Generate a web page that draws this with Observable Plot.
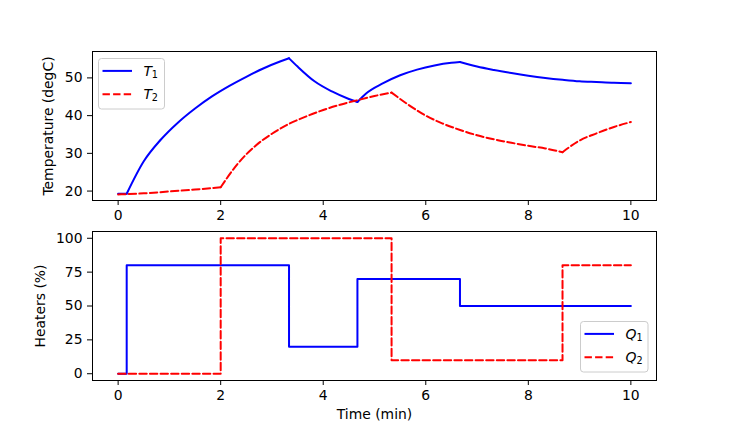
<!DOCTYPE html>
<html><head><meta charset="utf-8">
<script src="https://cdn.jsdelivr.net/npm/d3@7"></script>
<script src="https://cdn.jsdelivr.net/npm/@observablehq/plot@0.6"></script>
<style>
html,body{margin:0;padding:0;background:#fff;}
#chart{position:relative;width:729px;height:426px;font-family:"DejaVu Sans";overflow:hidden;}
#chart svg{position:absolute;left:0;}
</style></head><body><div id="chart"></div>
<script>
// Temperature T1 (degC) vs time (min)
const timeT1 = [0, 0.167, 0.5, 0.83, 1.17, 1.5, 1.83, 2.17, 2.5, 2.83, 3.17, 3.333, 3.5, 3.83, 4.17, 4.5, 4.667, 4.83, 5.17, 5.5, 5.83, 6.17, 6.5, 6.667, 7.0, 7.33, 7.67, 8.0, 8.33, 8.67, 9.0, 9.33, 9.67, 10.0];
const tempT1 = [19.3, 19.3, 27.9, 33.6, 38.2, 41.9, 45.1, 47.9, 50.3, 52.5, 54.4, 55.2, 53.0, 49.1, 46.4, 44.4, 43.6, 45.8, 48.6, 50.7, 52.2, 53.3, 54.0, 54.2, 53.0, 52.1, 51.3, 50.6, 50.0, 49.5, 49.1, 48.9, 48.7, 48.6];
// Temperature T2 (degC)
const timeT2 = [0, 0.5, 1.0, 1.5, 2.0, 2.33, 2.67, 3.0, 3.33, 3.67, 4.0, 4.33, 4.67, 5.0, 5.333, 5.67, 6.0, 6.33, 6.67, 7.0, 7.33, 7.67, 8.0, 8.33, 8.667, 9.0, 9.33, 9.67, 10.0];
const tempT2 = [19.1, 19.4, 19.9, 20.4, 21.0, 27.2, 31.9, 35.2, 37.8, 39.8, 41.5, 42.9, 44.1, 45.2, 46.1, 42.8, 40.0, 37.9, 36.2, 34.8, 33.7, 32.8, 32.0, 31.3, 30.3, 33.4, 35.3, 37.0, 38.3];
// Heater outputs (%) step changes
const timeQ1 = [0, 0.167, 3.333, 4.667, 6.667, 10];
const valQ1 = [0, 80, 20, 70, 50, 50];
const timeQ2 = [0, 2.0, 5.333, 8.667, 10];
const valQ2 = [0, 100, 10, 80, 80];
// Ticks
const xTicks = [0, 2, 4, 6, 8, 10];
const tTicks = [20, 30, 40, 50];
const qTicks = [0, 25, 50, 75, 100];

// Build tables; temperature curves are split at the heater switching times so kinks stay sharp
function segmented(times, vals, breaks) {
  const out = [];
  times.forEach((t, i) => {
    let seg = 0;
    for (const b of breaks) if (t > b + 1e-9) seg++;
    out.push({t, v: vals[i], seg});
    if (breaks.some(b => Math.abs(b - t) < 1e-9)) out.push({t, v: vals[i], seg: seg + 1});
  });
  return out;
}
const T1 = segmented(timeT1, tempT1, timeQ1.slice(1, -1));
const T2 = segmented(timeT2, tempT2, timeQ2.slice(1, -1));
const Q1 = timeQ1.map((t, i) => ({t, v: valQ1[i]}));
const Q2 = timeQ2.map((t, i) => ({t, v: valQ2[i]}));

const BLUE = "#0000ff", RED = "#ff0000", DASH = "7.4,3.2";
const plotStyle = {fontFamily: "DejaVu Sans", fontSize: "13.9px", color: "black", background: "white", overflow: "visible"};

const topPlot = Plot.plot({
  width: 729, height: 226,
  marginLeft: 92, marginRight: 73, marginTop: 51, marginBottom: 26,
  style: plotStyle,
  x: {domain: [-0.5, 10.5]},
  y: {domain: [17.5, 57.0]},
  marks: [
    Plot.line(T1, {x: "t", y: "v", z: "seg", curve: "monotone-x", stroke: BLUE, strokeWidth: 2}),
    Plot.line(T2, {x: "t", y: "v", z: "seg", curve: "monotone-x", stroke: RED, strokeWidth: 2, strokeDasharray: DASH}),
    Plot.frame({stroke: "black", strokeWidth: 1}),
    Plot.axisX({ticks: xTicks, tickSize: 5, tickPadding: 5, label: null, tickFormat: d => String(d)}),
    Plot.axisY({ticks: tTicks, tickSize: 5, tickPadding: 5, label: null, tickFormat: d => String(d)}),
    Plot.text(["Temperature (degC)"], {frameAnchor: "left", textAnchor: "middle", text: d => d, rotate: -90, dx: -44, fill: "black"})
  ]
});
topPlot.style.top = "0px";

const bottomPlot = Plot.plot({
  width: 729, height: 200,
  marginLeft: 92, marginRight: 73, marginTop: 5, marginBottom: 46,
  style: plotStyle,
  x: {domain: [-0.5, 10.5]},
  y: {domain: [-5, 105]},
  marks: [
    Plot.line(Q1, {x: "t", y: "v", stroke: BLUE, strokeWidth: 2, curve: "step-after"}),
    Plot.line(Q2, {x: "t", y: "v", stroke: RED, strokeWidth: 2, strokeDasharray: DASH, curve: "step-after"}),
    Plot.frame({stroke: "black", strokeWidth: 1}),
    Plot.axisX({ticks: xTicks, tickSize: 5, tickPadding: 5, label: null, tickFormat: d => String(d)}),
    Plot.axisY({ticks: qTicks, tickSize: 5, tickPadding: 5, label: null, tickFormat: d => String(d)}),
    Plot.text(["Heaters (%)"], {frameAnchor: "left", textAnchor: "middle", text: d => d, rotate: -90, dx: -52, fill: "black"}),
    Plot.text(["Time (min)"], {frameAnchor: "bottom", text: d => d, dy: 38, fill: "black"})
  ]
});
bottomPlot.style.top = "226px";

const chart = document.getElementById("chart");
chart.appendChild(topPlot);
chart.appendChild(bottomPlot);

// Legends overlay
const NS = "http://www.w3.org/2000/svg";
const ov = document.createElementNS(NS, "svg");
ov.setAttribute("width", 729); ov.setAttribute("height", 426);
ov.style.top = "0px"; ov.style.pointerEvents = "none";
chart.appendChild(ov);
function el(name, attrs, parent) {
  const e = document.createElementNS(NS, name);
  for (const k in attrs) if (attrs[k] != null) e.setAttribute(k, attrs[k]);
  parent.appendChild(e); return e;
}
function legend(x, y, w, h, entries) {
  el("rect", {x, y, width: w, height: h, rx: 3, ry: 3, fill: "white", "fill-opacity": 0.8, stroke: "#cccccc", "stroke-width": 1}, ov);
  entries.forEach((en, i) => {
    const ly = y + 12.4 + i * 23.4;
    el("line", {x1: x + 4, x2: x + 33.5, y1: ly, y2: ly, stroke: en.color, "stroke-width": 2, "stroke-dasharray": en.dash}, ov);
    const t = el("text", {x: x + 45, y: ly + 4.6, "font-family": "DejaVu Sans", "font-size": 13.9, "font-style": "italic", fill: "black"}, ov);
    t.textContent = en.letter;
    const s = el("text", {x: x + 45 + en.lw, y: ly + 7, "font-family": "DejaVu Sans", "font-size": 9.7, fill: "black"}, ov);
    s.textContent = en.sub;
  });
}
legend(98.5, 58.5, 66, 50.5, [
  {color: BLUE, letter: "T", sub: "1", lw: 8.2},
  {color: RED, letter: "T", sub: "2", lw: 8.2, dash: DASH}
]);
legend(580.5, 321.5, 67.5, 50.5, [
  {color: BLUE, letter: "Q", sub: "1", lw: 11},
  {color: RED, letter: "Q", sub: "2", lw: 11, dash: DASH}
]);
</script></body></html>
